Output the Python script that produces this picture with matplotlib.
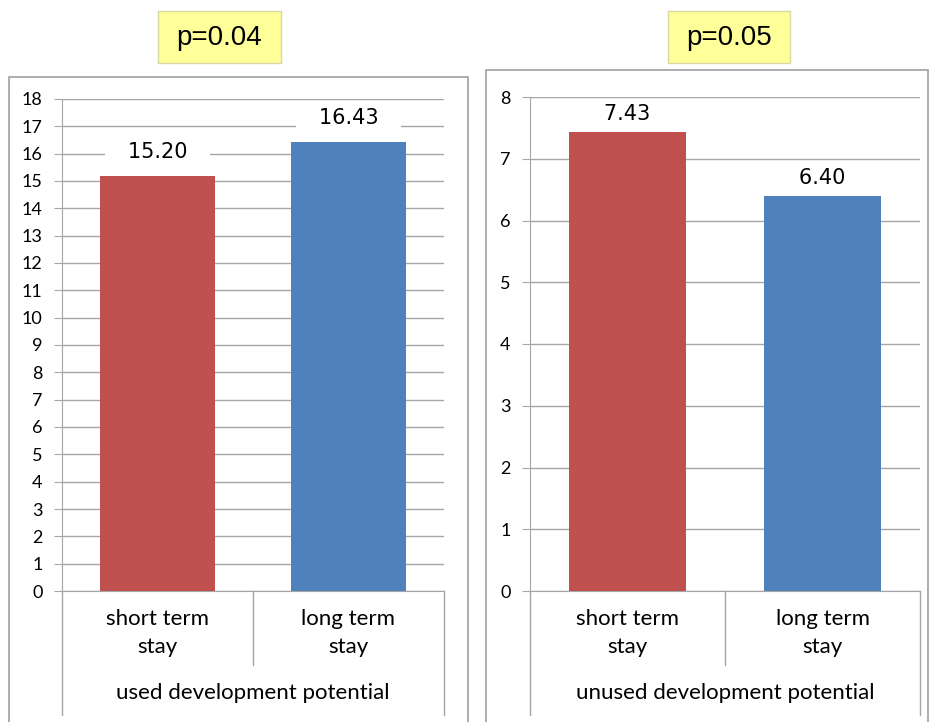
import matplotlib
matplotlib.use("Agg")
import matplotlib.pyplot as plt
from matplotlib.patches import Rectangle
from matplotlib.lines import Line2D

categories = ["short term\nstay", "long term\nstay"]
used_values = [15.20, 16.43]
unused_values = [7.43, 6.40]
group_titles = ["used development potential", "unused development potential"]
p_labels = ["p=0.04", "p=0.05"]
used_ticks = list(range(0, 19))
unused_ticks = list(range(0, 9))

W, H = 931, 722
RED = "#C0504D"
BLUE = "#4F81BD"
GRID = "#A6A6A6"
FONT = ["Lato", "DejaVu Sans"]

fig = plt.figure(figsize=(W / 100, H / 100), dpi=100)
fig.patch.set_facecolor("white")

def px_rect(x0, y0, x1, y1):
    return [x0 / W, 1 - y1 / H, (x1 - x0) / W, (y1 - y0) / H]

# chart frames
for (x0, y0, x1) in [(9, 77, 468), (486, 70, 928)]:
    fig.patches.append(Rectangle((x0 / W, -0.05), (x1 - x0) / W, 1 - y0 / H + 0.05,
                                 transform=fig.transFigure, fill=False,
                                 edgecolor="#A0A0A0", linewidth=1.2))

# p-value boxes
for (x0, x1), txt in zip([(158, 281), (668, 790)], p_labels):
    fig.patches.append(Rectangle((x0 / W, 1 - 63 / H), (x1 - x0) / W, 52 / H,
                                 transform=fig.transFigure, facecolor="#FFFF99",
                                 edgecolor="#D8D8A0", linewidth=1))
    fig.text((x0 + x1) / 2 / W, 1 - 38 / H, txt, ha="center", va="center",
             fontsize=20, family=["Liberation Sans", "DejaVu Sans"])

def draw(rect, values, ticks, title, bottom_px, top_px, label_off):
    ax = fig.add_axes(rect)
    x = [0, 1]
    ax.bar(x, values, width=0.6, color=[RED, BLUE], zorder=2)
    ax.set_xlim(-0.5, 1.5)
    ax.set_ylim(ticks[0], ticks[-1])
    ax.set_yticks(ticks)
    ax.set_yticklabels([str(t) for t in ticks], fontsize=13, family=FONT)
    ax.yaxis.grid(True, color=GRID, linewidth=1, zorder=0)
    ax.set_xticks([])
    for s in ["top", "right"]:
        ax.spines[s].set_visible(False)
    ax.spines["left"].set_color(GRID)
    ax.spines["bottom"].set_color(GRID)
    ax.tick_params(axis="y", length=6, color=GRID, pad=8)
    ax.set_facecolor("white")
    for xi, v in zip(x, values):
        ax.annotate(f"   {v:.2f}   ", (xi, v), xytext=(0, label_off), textcoords="offset points",
                    ha="center", va="center", fontsize=15,
                    family=["DejaVu Sans"],
                    bbox=dict(facecolor="white", edgecolor="none", pad=2), zorder=3)
    # category label area
    hpx = bottom_px - top_px
    low = -(715 - bottom_px) / hpx
    mid = -(665 - bottom_px) / hpx
    for xa, yb in [(0, low), (0.5, mid), (1, low)]:
        ax.add_line(Line2D([xa, xa], [0, yb], transform=ax.transAxes, color=GRID,
                           linewidth=1, clip_on=False))
    for xi, c in zip([0.25, 0.75], categories):
        ax.text(xi, -(633 - bottom_px) / hpx, c, transform=ax.transAxes,
                ha="center", va="center", fontsize=16, family=FONT, linespacing=1.45)
    ax.text(0.5, -(693 - bottom_px) / hpx, title, transform=ax.transAxes,
            ha="center", va="center", fontsize=16, family=FONT)
    return ax

draw(px_rect(62, 99, 444, 591), used_values, used_ticks, group_titles[0], 591, 99, 17)
draw(px_rect(530, 97, 920, 591), unused_values, unused_ticks, group_titles[1], 591, 97, 13)

fig.savefig("out.png", dpi=100, facecolor="white")
